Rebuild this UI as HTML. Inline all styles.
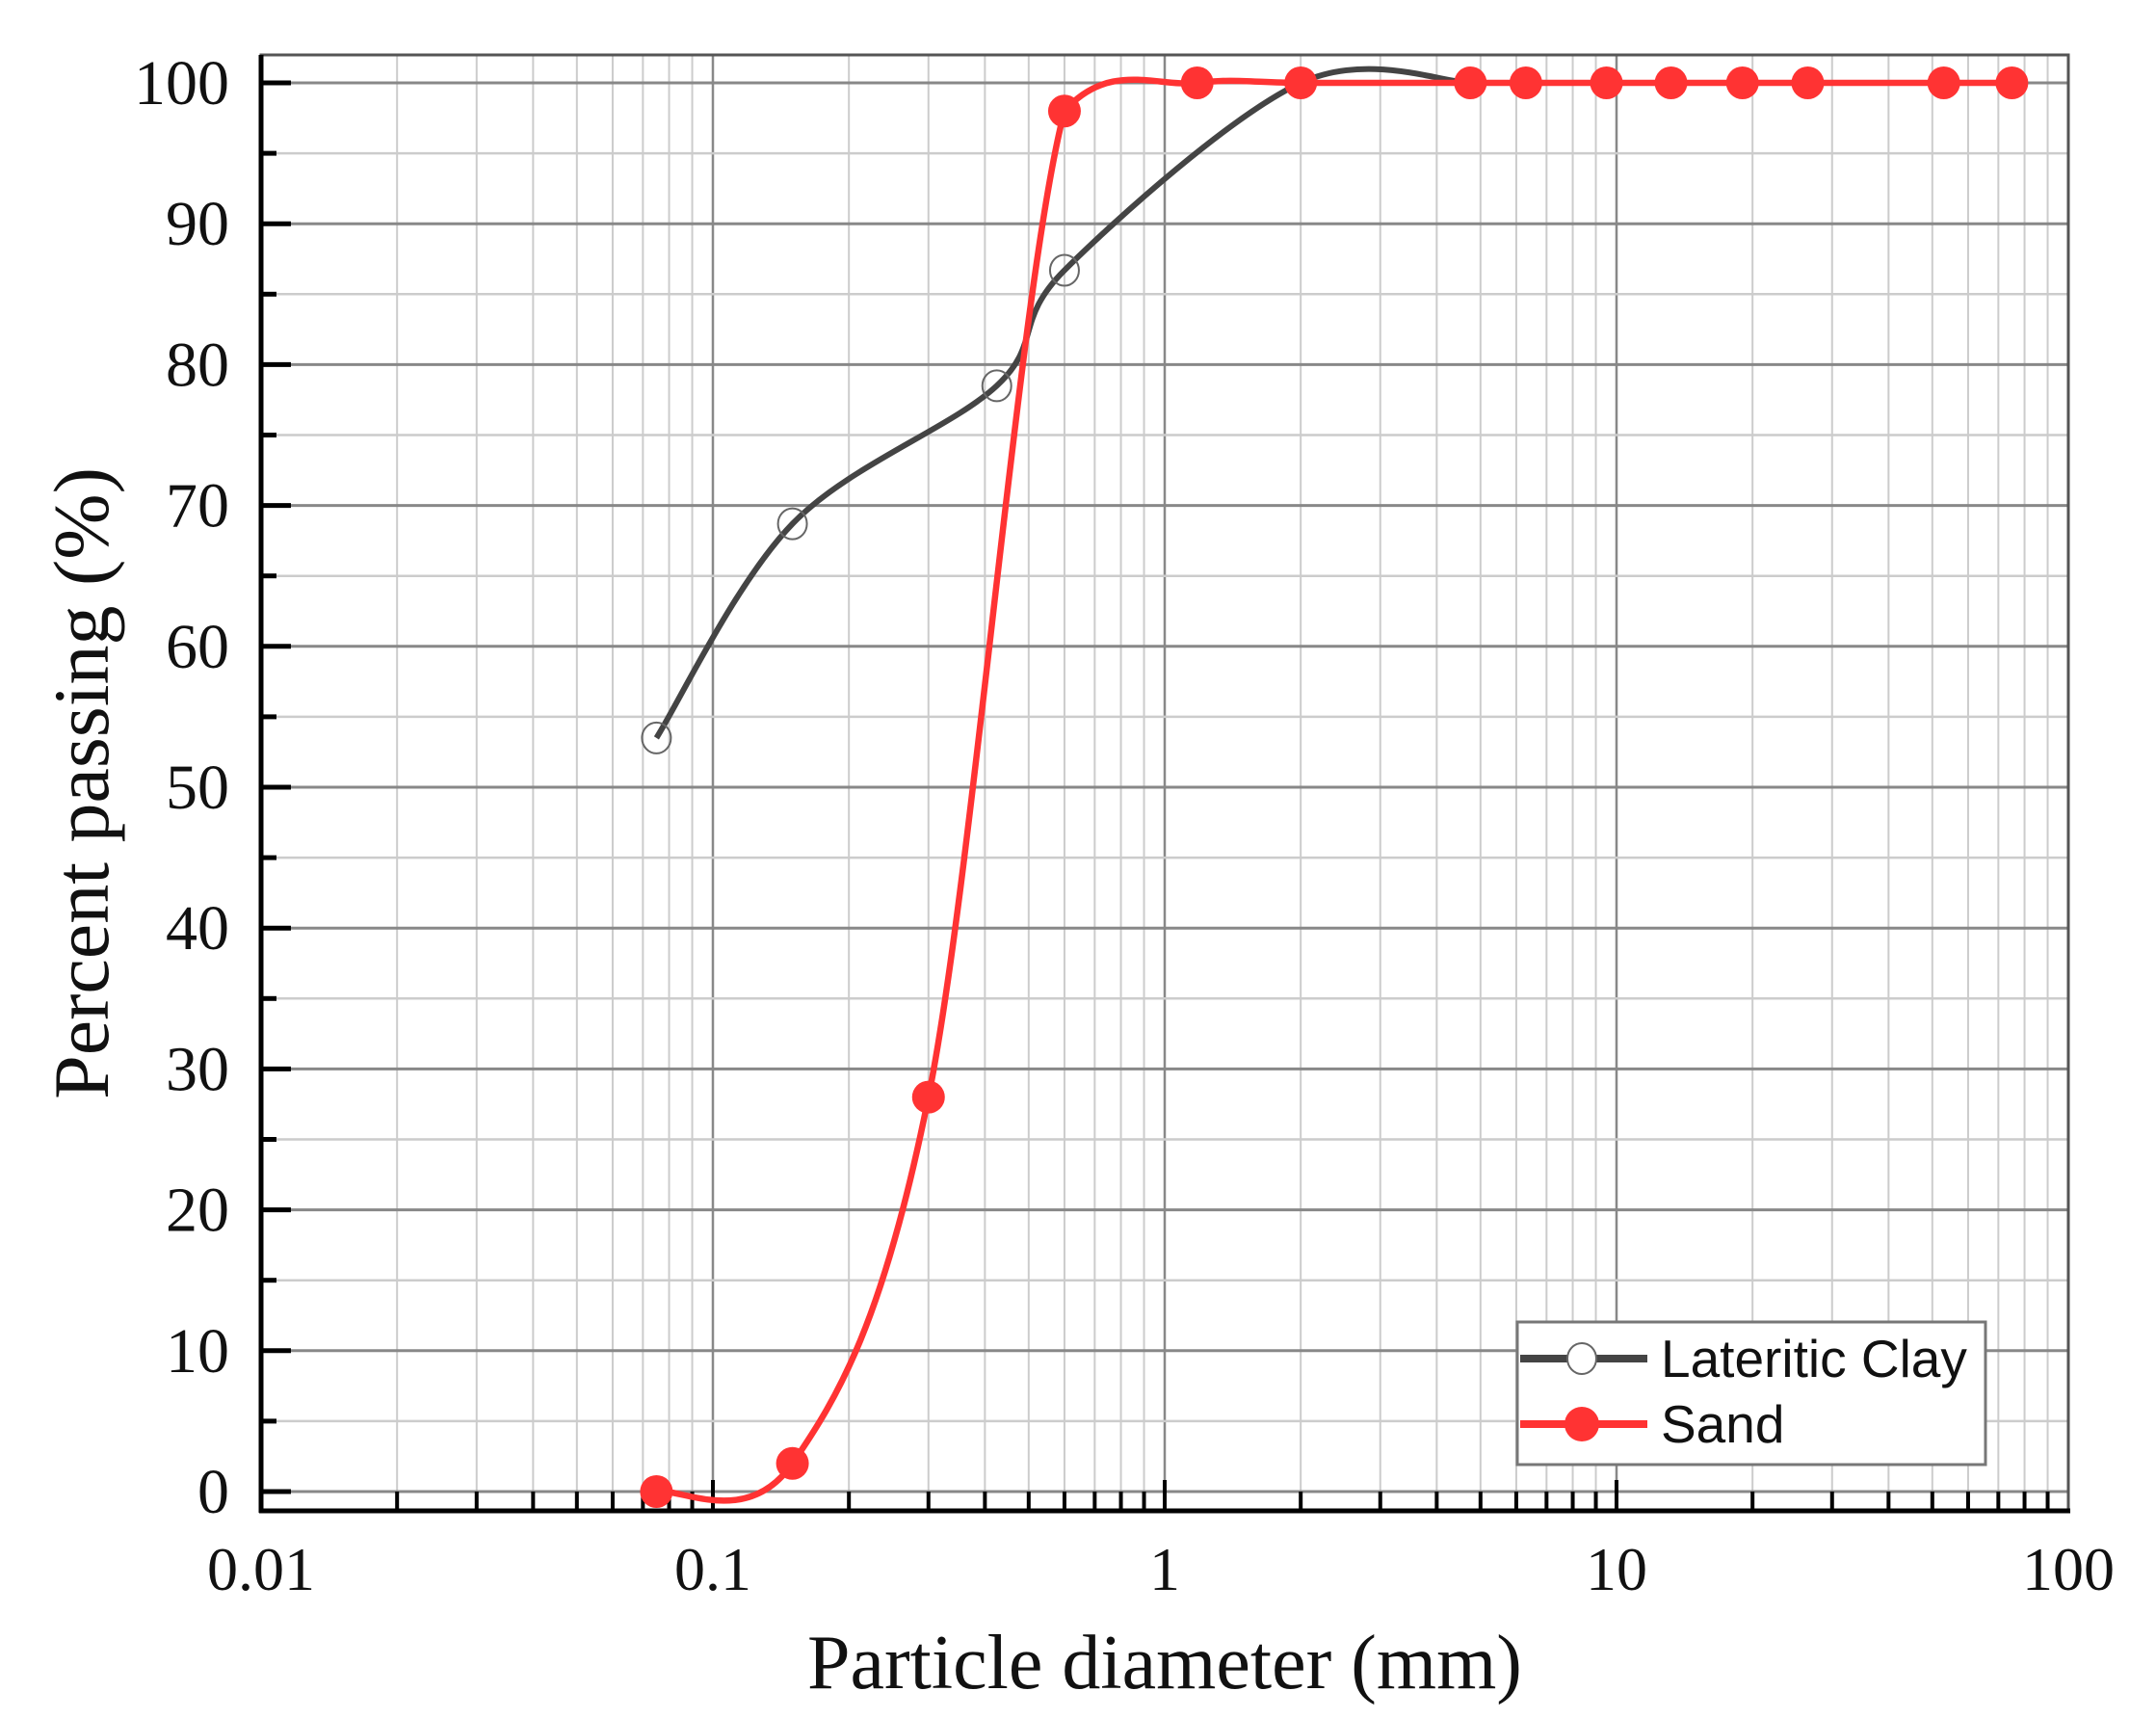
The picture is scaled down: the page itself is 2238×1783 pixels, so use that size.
<!DOCTYPE html>
<html><head><meta charset="utf-8"><style>
html,body{margin:0;padding:0;background:#fff;}
svg{display:block;}
text{font-family:"Liberation Serif",serif;fill:#111;}
</style></head><body>
<svg id="s" width="2238" height="1783" xmlns="http://www.w3.org/2000/svg">
<g id="grid"></g>
<g id="ticks"></g>
<rect x="271" y="57" width="1876" height="1511" fill="none" stroke="#555" stroke-width="3"/>
<line x1="271" y1="57" x2="271" y2="1570" stroke="#000" stroke-width="5"/>
<line x1="269" y1="1568" x2="2149" y2="1568" stroke="#000" stroke-width="5"/>
<g id="labels"></g>
<g id="series"></g>
<text x="1209" y="1752" font-size="80" text-anchor="middle">Particle diameter (mm)</text>
<text transform="translate(112,813) rotate(-90)" font-size="82" text-anchor="middle">Percent passing (%)</text>
<rect x="1575" y="1372" width="486" height="148" fill="#fff" stroke="#777" stroke-width="3"/>
<line x1="1578" y1="1410" x2="1710" y2="1410" stroke="#444" stroke-width="8"/>
<ellipse cx="1642" cy="1410" rx="15" ry="16" fill="#fff" stroke="#666" stroke-width="2"/>
<line x1="1578" y1="1478" x2="1710" y2="1478" stroke="#f33" stroke-width="8"/>
<circle cx="1642" cy="1478" r="18" fill="#f33"/>
<text x="1724" y="1429" font-size="55" style="font-family:'Liberation Sans',sans-serif">Lateritic Clay</text>
<text x="1724" y="1497" font-size="55" style="font-family:'Liberation Sans',sans-serif">Sand</text>
</svg>
<script>
var NS="http://www.w3.org/2000/svg";
function X(d){return 271+469*(Math.log10(d)+2);}
function Y(v){return 1548-14.62*v;}
function el(p,t,a,txt){var e=document.createElementNS(NS,t);for(var k in a)e.setAttribute(k,a[k]);if(txt!==undefined)e.textContent=txt;document.getElementById(p).appendChild(e);return e;}
for(var dec=-2;dec<2;dec++){for(var m=1;m<10;m++){var d=m*Math.pow(10,dec);var x=X(d);
 if(m>1){el('grid','line',{x1:x,y1:57,x2:x,y2:1568,stroke:'#ccc','stroke-width':2});
 el('ticks','line',{x1:x,y1:1568,x2:x,y2:1548,stroke:'#000','stroke-width':4});}
 else if(dec>-2){el('grid','line',{x1:x,y1:57,x2:x,y2:1568,stroke:'#888','stroke-width':2.5});
 el('ticks','line',{x1:x,y1:1568,x2:x,y2:1536,stroke:'#000','stroke-width':4});}
}}
var xl=[[0.01,'0.01'],[0.1,'0.1'],[1,'1'],[10,'10'],[100,'100']];
xl.forEach(function(p){el('labels','text',{x:X(p[0]),y:1650,'font-size':64,'text-anchor':'middle'},p[1]);});
for(var v=0;v<=100;v+=5){var y=Y(v);var maj=v%10==0;
 el('grid','line',{x1:271,y1:y,x2:2147,y2:y,stroke:maj?'#888':'#ccc','stroke-width':maj?3:2.5});
 el('ticks','line',{x1:271,y1:y,x2:maj?302:287,y2:y,stroke:'#000','stroke-width':5});
 if(maj)el('labels','text',{x:238,y:y+22,'font-size':66,'text-anchor':'end'},String(v));}
function spline(pts,cap){var P=pts.map(function(p){return [X(p[0]),Y(p[1])];});
 var s='M'+P[0][0]+','+P[0][1];
 for(var i=0;i<P.length-1;i++){var p0=P[i-1]||P[i],p1=P[i],p2=P[i+1],p3=P[i+2]||P[i+1];
 var c1=[p1[0]+(p2[0]-p0[0])/6,p1[1]+(p2[1]-p0[1])/6],c2=[p2[0]-(p3[0]-p1[0])/6,p2[1]-(p3[1]-p1[1])/6];
 if(cap!==undefined){c1[1]=Math.max(c1[1],cap);c2[1]=Math.max(c2[1],cap);}
 s+=' C'+c1+' '+c2+' '+p2;}return s;}
var clay=[[0.075,53.5],[0.15,68.7],[0.425,78.5],[0.6,86.7],[2,100],[4.75,100]];
var sand=[[0.075,0],[0.15,2],[0.3,28],[0.6,98],[1.18,100],[2,100],[4.75,100],[6.3,100],[9.5,100],[13.2,100],[19,100],[26.5,100],[53,100],[75,100]];
el('series','path',{d:spline(clay),fill:'none',stroke:'#444','stroke-width':6});
clay.slice(0,4).forEach(function(p){el('series','ellipse',{cx:X(p[0]),cy:Y(p[1]),rx:15,ry:16,fill:'none',stroke:'#666','stroke-width':2});});
el('series','path',{d:spline(sand,Y(101.6)),fill:'none',stroke:'#f33','stroke-width':6.5});
sand.forEach(function(p){el('series','circle',{cx:X(p[0]),cy:Y(p[1]),r:17,fill:'#f33'});});
</script>
</body></html>
